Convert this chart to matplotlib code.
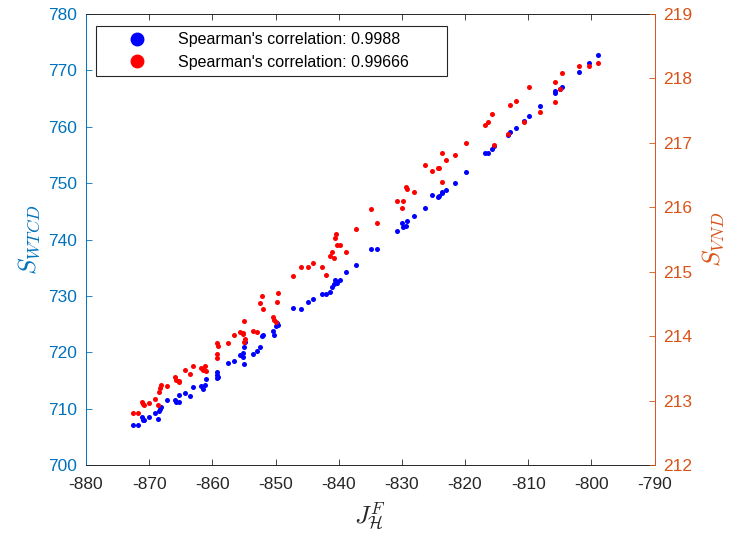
import matplotlib
matplotlib.use('Agg')
import matplotlib.pyplot as plt
from matplotlib.lines import Line2D

plt.rcParams['font.family'] = ['Liberation Sans', 'DejaVu Sans']
plt.rcParams['mathtext.fontset'] = 'cm'
plt.rcParams['axes.unicode_minus'] = False

# x values: J_H^F
j_hf = [-872.5, -871.8, -871.2, -871.0, -870.8, -870.0, -869.1, -868.6, -868.4, -868.3,
        -868.1, -867.1, -865.9, -865.7, -865.3, -865.2, -864.3, -863.6, -863.0, -861.8,
        -861.4, -861.1, -861.0, -859.3, -859.2, -859.2, -859.1, -857.5, -856.5, -855.6,
        -855.2, -855.2, -855.0, -855.0, -854.9, -853.5, -853.0, -852.5, -852.2, -851.9,
        -850.4, -850.2, -849.9, -849.7, -849.6, -847.2, -846.0, -844.9, -844.1, -842.6,
        -842.0, -841.3, -841.0, -840.7, -840.3, -840.6, -839.8, -840.5, -838.8, -837.2,
        -834.9, -834.0, -830.7, -829.9, -829.8, -829.3, -829.2, -828.0, -826.3, -825.3,
        -824.2, -824.1, -823.7, -823.6, -823.0, -821.6, -819.8, -816.8, -816.3, -815.8,
        -815.4, -813.2, -812.9, -811.9, -810.7, -809.8, -808.1, -805.8, -805.7, -805.0,
        -804.6, -802.0, -800.4, -799.0]

# left axis: S_WTCD
s_wtcd = [707.1, 707.1, 708.5, 708.0, 707.9, 708.5, 709.2, 708.1, 709.6, 710.0,
          710.2, 711.5, 711.5, 711.2, 711.1, 712.4, 712.7, 712.3, 713.9, 714.0,
          713.5, 714.2, 715.2, 716.5, 716.0, 715.4, 715.6, 718.1, 718.4, 719.5,
          719.9, 719.1, 717.9, 721.0, 721.9, 719.7, 720.3, 721.0, 722.9, 723.0,
          723.8, 723.1, 724.7, 725.1, 724.9, 727.9, 727.7, 729.0, 729.4, 730.3,
          730.3, 730.6, 731.5, 732.1, 732.2, 732.9, 732.8, 732.5, 734.3, 735.4,
          738.4, 738.4, 741.5, 742.9, 742.3, 742.4, 743.3, 744.2, 745.5, 747.9,
          747.5, 747.7, 748.3, 748.5, 748.8, 750.1, 752.0, 755.3, 755.4, 756.0,
          756.6, 758.5, 759.0, 759.8, 761.0, 761.9, 763.6, 765.9, 766.3, 766.7,
          767.0, 769.7, 771.3, 772.7]

# right axis: S_VND
s_vnd = [212.81, 212.81, 212.98, 212.95, 212.93, 212.96, 213.02, 212.93, 213.14, 213.19,
         213.24, 213.22, 213.37, 213.32, 213.29, 213.30, 213.47, 213.41, 213.53, 213.50,
         213.48, 213.53, 213.46, 213.73, 213.66, 213.89, 213.84, 213.90, 214.01, 214.07,
         214.03, 214.05, 213.91, 214.24, 213.95, 214.08, 214.07, 214.52, 214.63, 214.42,
         214.29, 214.25, 214.22, 214.53, 214.67, 214.93, 215.07, 215.07, 215.13, 215.07,
         214.95, 215.25, 215.30, 215.22, 215.41, 215.53, 215.41, 215.58, 215.31, 215.66,
         215.98, 215.76, 216.09, 215.99, 216.10, 216.32, 216.28, 216.24, 216.66, 216.56,
         216.61, 216.61, 216.40, 216.85, 216.74, 216.81, 217.00, 217.27, 217.32, 217.45,
         216.96, 217.14, 217.58, 217.65, 217.33, 217.86, 217.48, 217.94, 217.63, 217.83,
         218.08, 218.20, 218.20, 218.24]

legend_labels = ["Spearman's correlation: 0.9988", "Spearman's correlation: 0.99666"]
x_ticks = list(range(-880, -789, 10))
left_ticks = list(range(700, 781, 10))
right_ticks = list(range(212, 220))

C_LEFT = '#0072BD'
C_RIGHT = '#D95319'
C_AX = '#262626'

fig = plt.figure(figsize=(7.33, 5.33), dpi=100)
ax = fig.add_axes([86 / 733, 68 / 533, 568.5 / 733, 451 / 533])
ax2 = ax.twinx()

ax.scatter(j_hf, s_wtcd, s=13, c='#0000FF', linewidths=0, zorder=3)
ax2.scatter(j_hf, s_vnd, s=13, c='#FF0000', linewidths=0, zorder=3)

ax.set_xlim(-880, -790)
ax.set_ylim(700, 780)
ax2.set_ylim(212, 219)
ax.set_xticks(x_ticks)
ax.set_yticks(left_ticks)
ax2.set_yticks(right_ticks)

ax.tick_params(axis='x', which='both', direction='in', top=True, bottom=True,
               length=4.5, width=0.6, color=C_AX, labelcolor=C_AX, labelsize=12.5, pad=8.5)
ax.tick_params(axis='y', direction='in', left=True, right=False, length=4.5, width=0.6,
               color=C_LEFT, labelcolor=C_LEFT, labelsize=12.5, pad=6.5)
ax2.tick_params(axis='y', direction='in', right=True, left=False, length=4.5, width=0.6,
                color=C_RIGHT, labelcolor=C_RIGHT, labelsize=12.5, pad=6)

for a in (ax, ax2):
    for sp in a.spines.values():
        sp.set_linewidth(0.7)
ax.spines['left'].set_color(C_LEFT)
ax.spines['right'].set_visible(False)
ax.spines['top'].set_color(C_AX)
ax.spines['bottom'].set_color(C_AX)
ax2.spines['left'].set_visible(False)
ax2.spines['top'].set_visible(False)
ax2.spines['bottom'].set_visible(False)
ax2.spines['right'].set_color(C_RIGHT)

ax.set_xlabel(r'$J^F_{\mathcal{H}}$', fontsize=18, color=C_AX, labelpad=6)
ax.set_ylabel(r'$S_{WTCD}$', fontsize=18, color=C_LEFT, labelpad=4)
ax2.set_ylabel(r'$S_{VND}$', fontsize=18, color=C_RIGHT, rotation=90, labelpad=6)

handles = [Line2D([], [], marker='o', ls='none', color='#0000FF', markersize=9),
           Line2D([], [], marker='o', ls='none', color='#FF0000', markersize=9)]
leg = ax2.legend(handles, legend_labels, loc='upper left',
                 bbox_to_anchor=(10 / 568.5, 383 / 451, 351 / 568.5, 56 / 451),
                 mode='expand', borderaxespad=0, fontsize=11.5, fancybox=False,
                 edgecolor=C_AX, framealpha=1, borderpad=0.4, handlelength=4.3,
                 handletextpad=0.43, labelspacing=0.45, numpoints=1)
leg.get_frame().set_linewidth(0.8)

fig.savefig('out.png', dpi=100)
